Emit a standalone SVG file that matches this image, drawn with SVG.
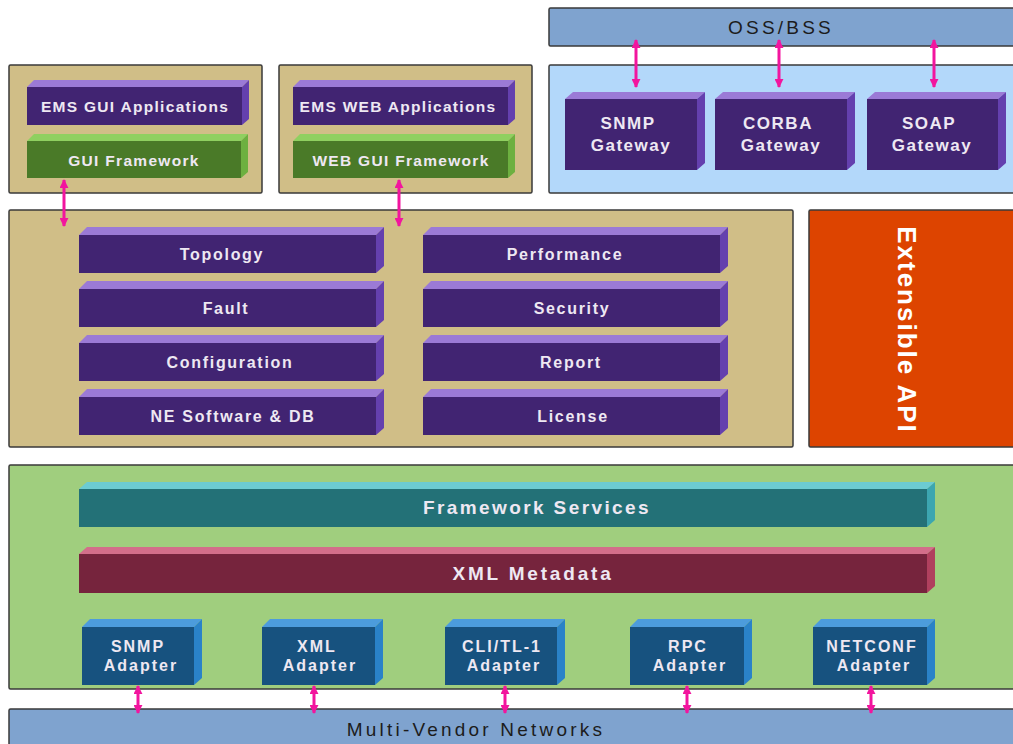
<svg xmlns="http://www.w3.org/2000/svg" width="1013" height="744" viewBox="0 0 1013 744">
<defs>
<marker id="ah" viewBox="0 0 10 10" refX="9" refY="5" markerWidth="9" markerHeight="9" markerUnits="userSpaceOnUse" orient="auto-start-reverse">
<path d="M0,0 L10,5 L0,10 Z" fill="#F2159E"/>
</marker>
</defs>
<style>
.panel{stroke:#3a3a3a;stroke-width:1.5}
.tan{fill:#D0BE87}
.lt{fill:#EEE8F2;font-family:"Liberation Sans",Arial,sans-serif;font-size:15.5px;font-weight:bold;letter-spacing:1.3px;text-anchor:middle}
.fn{font-size:16px;letter-spacing:1.7px}
.gw{font-size:17px;letter-spacing:1.5px}
.ad{font-size:16px;letter-spacing:2px}
.dk{fill:#1c1c1c;font-family:"Liberation Sans",Arial,sans-serif;font-size:19px;letter-spacing:3.2px;text-anchor:middle}
.pf{fill:#412472}.pt{fill:#9B7AD6}.ps{fill:#6440AE}
.gf{fill:#4A7A28}.gt{fill:#8FD060}.gs{fill:#6DB040}
.tf{fill:#237177}.tt{fill:#6CCBD2}.ts{fill:#3CA6B0}
.mf{fill:#76243D}.mt{fill:#D36E8A}.ms{fill:#B0405E}
.bf{fill:#17527F}.bt{fill:#4C9CDC}.bs{fill:#2A82C8}
.arr{stroke:#F2159E;stroke-width:3;fill:none;marker-start:url(#ah);marker-end:url(#ah)}
</style>
<rect width="1013" height="744" fill="#FFFFFF"/>

<g id="oss-bss">
<rect class="panel" x="549" y="8" width="470" height="38" fill="#7FA3CF" rx="1.5"/>
<text class="dk" x="781" y="34">OSS/BSS</text>
</g>

<g id="gateway-panel">
<rect class="panel" x="549" y="65" width="470" height="128" fill="#B3D8FA" rx="1.5"/>
</g>

<g id="ems-gui-panel">
<rect class="panel tan" x="9" y="65" width="253" height="128" rx="1.5"/>
</g>
<g id="ems-web-panel">
<rect class="panel tan" x="279" y="65" width="253" height="128" rx="1.5"/>
</g>

<g id="ems-gui-apps">
<polygon class="pt" points="27,87 34,80 249,80 242,87"/>
<polygon class="ps" points="242,87 249,80 249,119 242,125"/>
<rect class="pf" x="27" y="87" width="215" height="38"/>
<text class="lt" x="135" y="112">EMS GUI Applications</text>
</g>
<g id="gui-framework">
<polygon class="gt" points="27,141 34,134 248,134 241,141"/>
<polygon class="gs" points="241,141 248,134 248,172 241,178"/>
<rect class="gf" x="27" y="141" width="214" height="37"/>
<text class="lt" x="134" y="166">GUI Framework</text>
</g>

<g id="ems-web-apps">
<polygon class="pt" points="293,87 300,80 515,80 508,87"/>
<polygon class="ps" points="508,87 515,80 515,119 508,125"/>
<rect class="pf" x="293" y="87" width="215" height="38"/>
<text class="lt" x="398" y="112">EMS WEB Applications</text>
</g>
<g id="web-gui-framework">
<polygon class="gt" points="293,141 300,134 515,134 508,141"/>
<polygon class="gs" points="508,141 515,134 515,172 508,178"/>
<rect class="gf" x="293" y="141" width="215" height="37"/>
<text class="lt" x="401" y="166">WEB GUI Framework</text>
</g>

<g id="snmp-gateway">
<polygon class="pt" points="565,99 573,92 705,92 697,99"/>
<polygon class="ps" points="697,99 705,92 705,163 697,170"/>
<rect class="pf" x="565" y="99" width="132" height="71"/>
<text class="lt gw" x="628" y="129">SNMP</text>
<text class="lt gw" x="631" y="151">Gateway</text>
</g>
<g id="corba-gateway">
<polygon class="pt" points="715,99 723,92 855,92 847,99"/>
<polygon class="ps" points="847,99 855,92 855,163 847,170"/>
<rect class="pf" x="715" y="99" width="132" height="71"/>
<text class="lt gw" x="778" y="129">CORBA</text>
<text class="lt gw" x="781" y="151">Gateway</text>
</g>
<g id="soap-gateway">
<polygon class="pt" points="867,99 875,92 1006,92 998,99"/>
<polygon class="ps" points="998,99 1006,92 1006,163 998,170"/>
<rect class="pf" x="867" y="99" width="131" height="71"/>
<text class="lt gw" x="929" y="129">SOAP</text>
<text class="lt gw" x="932" y="151">Gateway</text>
</g>

<g id="core-panel">
<rect class="panel tan" x="9" y="210" width="784" height="237" rx="1.5"/>
</g>

<g id="topology">
<polygon class="pt" points="79,235 87,227 384,227 376,235"/>
<polygon class="ps" points="376,235 384,227 384,266 376,273"/>
<rect class="pf" x="79" y="235" width="297" height="38"/>
<text class="lt fn" x="222" y="260">Topology</text>
</g>
<g id="fault">
<polygon class="pt" points="79,289 87,281 384,281 376,289"/>
<polygon class="ps" points="376,289 384,281 384,320 376,327"/>
<rect class="pf" x="79" y="289" width="297" height="38"/>
<text class="lt fn" x="226" y="314">Fault</text>
</g>
<g id="configuration">
<polygon class="pt" points="79,343 87,335 384,335 376,343"/>
<polygon class="ps" points="376,343 384,335 384,374 376,381"/>
<rect class="pf" x="79" y="343" width="297" height="38"/>
<text class="lt fn" x="230" y="368">Configuration</text>
</g>
<g id="ne-software-db">
<polygon class="pt" points="79,397 87,389 384,389 376,397"/>
<polygon class="ps" points="376,397 384,389 384,428 376,435"/>
<rect class="pf" x="79" y="397" width="297" height="38"/>
<text class="lt fn" x="233" y="422">NE Software &amp; DB</text>
</g>
<g id="performance">
<polygon class="pt" points="423,235 431,227 728,227 720,235"/>
<polygon class="ps" points="720,235 728,227 728,266 720,273"/>
<rect class="pf" x="423" y="235" width="297" height="38"/>
<text class="lt fn" x="565" y="260">Performance</text>
</g>
<g id="security">
<polygon class="pt" points="423,289 431,281 728,281 720,289"/>
<polygon class="ps" points="720,289 728,281 728,320 720,327"/>
<rect class="pf" x="423" y="289" width="297" height="38"/>
<text class="lt fn" x="572" y="314">Security</text>
</g>
<g id="report">
<polygon class="pt" points="423,343 431,335 728,335 720,343"/>
<polygon class="ps" points="720,343 728,335 728,374 720,381"/>
<rect class="pf" x="423" y="343" width="297" height="38"/>
<text class="lt fn" x="571" y="368">Report</text>
</g>
<g id="license">
<polygon class="pt" points="423,397 431,389 728,389 720,397"/>
<polygon class="ps" points="720,397 728,389 728,428 720,435"/>
<rect class="pf" x="423" y="397" width="297" height="38"/>
<text class="lt fn" x="573" y="422">License</text>
</g>

<g id="extensible-api">
<rect class="panel" x="809" y="210" width="210" height="237" fill="#DD4400" rx="1.5"/>
<text x="907" y="330" transform="rotate(90 907 330)" fill="#FFFFFF" font-family="'Liberation Sans',Arial,sans-serif" font-size="26" font-weight="bold" letter-spacing="2" text-anchor="middle" dominant-baseline="central">Extensible  API</text>
</g>

<g id="services-panel">
<rect class="panel" x="9" y="465" width="1010" height="224" fill="#A0CE7E" rx="1.5"/>
</g>

<g id="framework-services">
<polygon class="tt" points="79,489 87,482 935,482 927,489"/>
<polygon class="ts" points="927,489 935,482 935,520 927,527"/>
<rect class="tf" x="79" y="489" width="848" height="38"/>
<text class="lt" x="537" y="514" style="font-size:19px;letter-spacing:2.4px">Framework Services</text>
</g>
<g id="xml-metadata">
<polygon class="mt" points="79,554 87,547 935,547 927,554"/>
<polygon class="ms" points="927,554 935,547 935,586 927,593"/>
<rect class="mf" x="79" y="554" width="848" height="39"/>
<text class="lt" x="533" y="580" style="font-size:19px;letter-spacing:2.8px">XML Metadata</text>
</g>

<g id="snmp-adapter">
<polygon class="bt" points="82,627 90,619 202,619 194,627"/>
<polygon class="bs" points="194,627 202,619 202,678 194,685"/>
<rect class="bf" x="82" y="627" width="112" height="58"/>
<text class="lt ad" x="138" y="652">SNMP</text>
<text class="lt ad" x="141" y="671">Adapter</text>
</g>
<g id="xml-adapter">
<polygon class="bt" points="262,627 270,619 383,619 375,627"/>
<polygon class="bs" points="375,627 383,619 383,678 375,685"/>
<rect class="bf" x="262" y="627" width="113" height="58"/>
<text class="lt ad" x="317" y="652">XML</text>
<text class="lt ad" x="320" y="671">Adapter</text>
</g>
<g id="cli-tl1-adapter">
<polygon class="bt" points="445,627 453,619 565,619 557,627"/>
<polygon class="bs" points="557,627 565,619 565,678 557,685"/>
<rect class="bf" x="445" y="627" width="112" height="58"/>
<text class="lt ad" x="502" y="652">CLI/TL-1</text>
<text class="lt ad" x="504" y="671">Adapter</text>
</g>
<g id="rpc-adapter">
<polygon class="bt" points="630,627 638,619 752,619 744,627"/>
<polygon class="bs" points="744,627 752,619 752,678 744,685"/>
<rect class="bf" x="630" y="627" width="114" height="58"/>
<text class="lt ad" x="688" y="652">RPC</text>
<text class="lt ad" x="690" y="671">Adapter</text>
</g>
<g id="netconf-adapter">
<polygon class="bt" points="813,627 821,619 935,619 927,627"/>
<polygon class="bs" points="927,627 935,619 935,678 927,685"/>
<rect class="bf" x="813" y="627" width="114" height="58"/>
<text class="lt ad" x="872" y="652">NETCONF</text>
<text class="lt ad" x="874" y="671">Adapter</text>
</g>

<g id="multi-vendor-networks">
<rect class="panel" x="9" y="709" width="1010" height="45" fill="#7FA3CF" rx="1.5"/>
<text class="dk" x="476" y="736">Multi-Vendor Networks</text>
</g>

<g id="connectors">
<line class="arr" x1="64" y1="180" x2="64" y2="226"/>
<line class="arr" x1="399" y1="180" x2="399" y2="226"/>
<line class="arr" x1="636" y1="40" x2="636" y2="87"/>
<line class="arr" x1="779" y1="40" x2="779" y2="87"/>
<line class="arr" x1="934" y1="40" x2="934" y2="87"/>
<line class="arr" x1="138" y1="686" x2="138" y2="713"/>
<line class="arr" x1="314" y1="686" x2="314" y2="713"/>
<line class="arr" x1="505" y1="686" x2="505" y2="713"/>
<line class="arr" x1="687" y1="686" x2="687" y2="713"/>
<line class="arr" x1="871" y1="686" x2="871" y2="713"/>
</g>
</svg>
